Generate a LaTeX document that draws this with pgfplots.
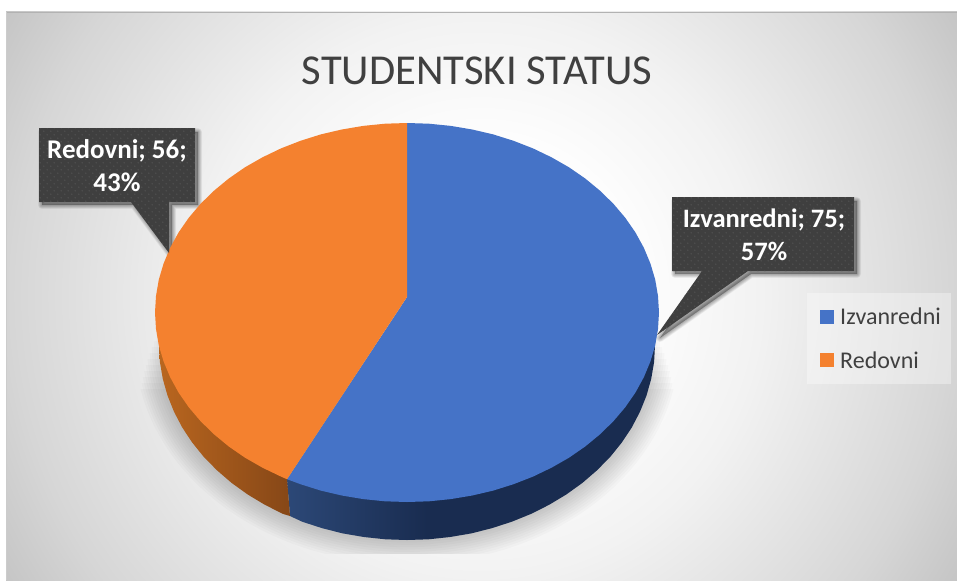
\documentclass[border=0pt]{standalone}
\usepackage{fontspec}
\setmainfont{Carlito}
\usepackage{pgfplots}
\pgfplotsset{compat=1.18}
\usetikzlibrary{patterns}
\definecolor{pieblue}{HTML}{4573C7}
\definecolor{pieorange}{HTML}{F4812F}
\definecolor{calloutgray}{HTML}{3F3F3F}
\definecolor{calloutdot}{HTML}{4E4E4E}
\definecolor{titlegray}{HTML}{404040}
\definecolor{bgA}{HTML}{F2F2F2}
\definecolor{bgB}{HTML}{D6D6D6}
\definecolor{bgC}{HTML}{C4C4C4}
\definecolor{wallblueA}{HTML}{2C4877}
\definecolor{wallblueB}{HTML}{192C50}
\definecolor{wallorangeA}{HTML}{B9661F}
\definecolor{wallorangeB}{HTML}{864717}
\pgfdeclareradialshading{bggrad}{\pgfpoint{0bp}{0bp}}{color(0bp)=(white); color(6.25bp)=(white); color(12.5bp)=(bgA); color(21bp)=(bgB); color(25bp)=(bgC); color(50bp)=(bgC)}
\pgfdeclarehorizontalshading{bluewall}{100bp}{color(0bp)=(wallblueA); color(25bp)=(wallblueA); color(44bp)=(wallblueB); color(100bp)=(wallblueB)}
\pgfdeclarehorizontalshading{orangewall}{100bp}{color(0bp)=(wallorangeA); color(25bp)=(wallorangeA); color(75bp)=(wallorangeB); color(100bp)=(wallorangeB)}
\pgfdeclarepatternformonly{calloutdots}{\pgfqpoint{-1pt}{-1pt}}{\pgfqpoint{8pt}{8pt}}{\pgfqpoint{7pt}{7pt}}{%
  \pgfpathcircle{\pgfqpoint{1.75pt}{1.75pt}}{0.9pt}%
  \pgfpathcircle{\pgfqpoint{5.25pt}{5.25pt}}{0.9pt}%
  \pgfusepath{fill}}
\begin{document}
\begin{tikzpicture}
\path[use as bounding box] (0,0) rectangle (957pt,581pt);
\fill[white] (0,0) rectangle (957pt,581pt);
% page background and soft shadows, in image pixels
\begin{scope}[x=1pt,y=-1pt,shift={(0pt,581pt)}]
  \begin{scope}
    \clip (6,12) rectangle (957,580);
    \shade[shading=bggrad] (481,296) circle (560);
    \fill[black!30] (6,12) rectangle (957,13);
    \fill[black!20] (6,12) rectangle (7,580);
  \end{scope}
  \foreach \d in {0,2.4,...,24} {
    \begin{scope}
      \clip (140,{330+2.5*\d}) rectangle (675,553);
      \fill[black,opacity=0.02] (407,345) ellipse ({248+\d} and {195+\d});
    \end{scope}
  }
  \fill[white,opacity=0.35] (807,293) rectangle (951,384);
  \foreach \w in {1,2,...,8} {
    \draw[black,opacity=0.045,line width=\w pt,line join=round,fill]
      (42,132) -- (198,132) -- (198,205) -- (172,205) -- (172,256) -- (134,205) -- (42,205) -- cycle;
    \draw[black,opacity=0.045,line width=\w pt,line join=round,fill]
      (675,201) -- (857,201) -- (857,274) -- (751,274) -- (660,338) -- (705,274) -- (675,274) -- cycle;
  }
\end{scope}
\begin{axis}[
    at={(0,0)},
    anchor=south west,
    width=957pt,
    height=581pt,
    scale only axis,
    xmin=0, xmax=957,
    ymin=0, ymax=581,
    y dir=reverse,
    hide axis,
    clip=false,
    legend cell align=left,
    legend style={
        at={(axis cs:820,308)},
        anchor=north west,
        draw=none,
        fill=none,
        inner sep=0pt,
        nodes={inner sep=0pt},
        row sep=25pt,
        font=\fontsize{24}{27}\selectfont,
        text=titlegray
    },
    legend image code/.code={
        \fill[#1] (0pt,-7pt) rectangle (14pt,7pt);
        \path (20pt,0pt);
    }
]
% side wall, blue
\addplot[forget plot,draw=none,shading=bluewall] coordinates {
    (655,345) (654.1,362) (651.2,378.9) (646.5,395.5) (640,411.7) (631.8,427.4)
    (621.8,442.5) (610.2,456.9) (597,470.3) (582.4,482.9) (566.4,494.4) (549.3,504.7)
    (531,513.9) (511.8,521.7) (491.8,528.2) (471.2,533.4) (450.1,537) (428.6,539.3)
    (407,540) (385.4,539.3) (363.9,537) (342.8,533.4) (322.2,528.2) (302.2,521.7)
    (290,516) (287,479.2)
} --cycle;
% side wall, orange
\addplot[forget plot,draw=none,shading=orangewall] coordinates {
    (290,516) (283,513.9) (264.7,504.7) (247.6,494.4) (231.6,482.9) (217,470.3)
    (203.8,456.9) (192.2,442.5) (182.2,427.4) (174,411.7) (167.5,395.5) (162.8,378.9)
    (159.9,362) (159,345) (287,479.2)
} --cycle;
% Izvanredni; 75
\addplot[draw=none,fill=pieblue] coordinates {
    (407,297) (407,123) (429,123.7) (450.8,125.9) (472.2,129.5) (493.2,134.4)
    (513.5,140.8) (533,148.4) (551.5,157.3) (569,167.3) (585.2,178.5) (600,190.7)
    (613.4,203.8) (625.2,217.7) (635.4,232.4) (643.8,247.7) (650.4,263.5) (655.2,279.6)
    (658,296) (659,312.5) (658,329) (655.2,345.4) (650.4,361.5) (643.8,377.3)
    (635.4,392.6) (625.2,407.3) (613.4,421.2) (600,434.3) (585.2,446.5) (569,457.7)
    (551.5,467.7) (533,476.6) (513.5,484.2) (493.2,490.6) (472.2,495.5) (450.8,499.1)
    (429,501.3) (407,502) (385,501.3) (363.2,499.1) (341.8,495.5) (320.8,490.6)
    (300.5,484.2) (287,479.2)
} --cycle;
\addlegendentry{Izvanredni}
% Redovni; 56
\addplot[draw=none,fill=pieorange] coordinates {
    (407,297) (287,479.2) (281,476.6) (262.5,467.7) (245,457.7) (228.8,446.5)
    (214,434.3) (200.6,421.2) (188.8,407.3) (178.6,392.6) (170.2,377.3) (163.6,361.5)
    (158.8,345.4) (156,329) (155,312.5) (156,296) (158.8,279.6) (163.6,263.5)
    (170.2,247.7) (178.6,232.4) (188.8,217.7) (200.6,203.8) (214,190.7) (228.8,178.5)
    (245,167.3) (262.5,157.3) (281,148.4) (300.5,140.8) (320.8,134.4) (341.8,129.5)
    (363.2,125.9) (385,123.7) (407,123)
} --cycle;
\addlegendentry{Redovni}
% callouts
\addplot[forget plot,draw=none,fill=calloutgray] coordinates {
    (39,128) (195,128) (195,202) (169,202) (169,253) (131,202) (39,202)
} --cycle;
\addplot[forget plot,draw=none,pattern=calloutdots,pattern color=calloutdot] coordinates {
    (39,128) (195,128) (195,202) (169,202) (169,253) (131,202) (39,202)
} --cycle;
\addplot[forget plot,draw=none,fill=calloutgray] coordinates {
    (672,197) (854,197) (854,271) (748,271) (657,335) (702,271) (672,271)
} --cycle;
\addplot[forget plot,draw=none,pattern=calloutdots,pattern color=calloutdot] coordinates {
    (672,197) (854,197) (854,271) (748,271) (657,335) (702,271) (672,271)
} --cycle;
\node[text=white,align=center,font=\fontsize{27}{33}\selectfont\bfseries] at (axis cs:117,166) {Redovni; 56;\\43\%};
\node[text=white,align=center,font=\fontsize{26.6}{33}\selectfont\bfseries] at (axis cs:764,235) {Izvanredni; 75;\\57\%};
\node[text=titlegray,font=\fontsize{42.6}{48}\selectfont] at (axis cs:477,71) {STUDENTSKI STATUS};
\end{axis}
\end{tikzpicture}
\end{document}
